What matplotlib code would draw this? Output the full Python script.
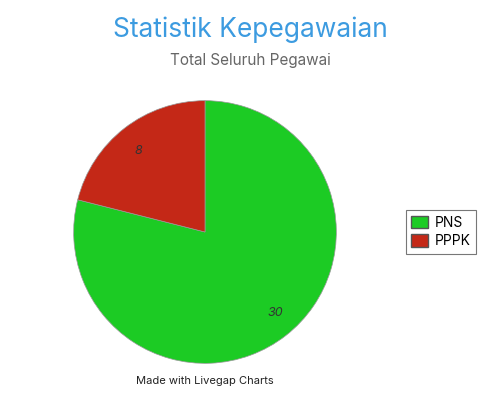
import matplotlib
matplotlib.use("Agg")
import matplotlib.pyplot as plt
from matplotlib.patches import Patch

categories = ["PNS", "PPPK"]
values = [30, 8]
colors = ["#1ccb24", "#c42817"]

plt.rcParams['font.family'] = ['Inter', 'DejaVu Sans']
fig = plt.figure(figsize=(5, 4), dpi=100)
fig.text(0.5, 0.925, "Statistik Kepegawaian", ha="center", va="center", fontsize=19, color="#3c9be0")
fig.text(0.5, 0.848, "Total Seluruh Pegawai", ha="center", va="center", fontsize=11, color="#666666")

ax = fig.add_axes([0.146, 0.09, 0.528, 0.66])
wedges, texts = ax.pie(values, colors=colors, startangle=90, counterclock=False,
                       labels=[str(v) for v in values], labeldistance=0.78,
                       wedgeprops=dict(linewidth=0.5, edgecolor="#999999"))
for t in texts:
    t.set_fontstyle("italic")
    t.set_fontsize(9)
    t.set_color("#333333")
ax.set_xlim(-1.005, 1.005)
ax.set_ylim(-1.005, 1.005)
ax.set_aspect("equal")

handles = [Patch(facecolor=c, edgecolor="#555555") for c in colors]
leg = fig.legend(handles, categories, loc="center", bbox_to_anchor=(0.882, 0.42),
                 fontsize=10, frameon=True, fancybox=False, handlelength=1.2,
                 handleheight=1.0, handletextpad=0.5, borderpad=0.4, labelspacing=0.3)
leg.get_frame().set_edgecolor("#555555")
leg.get_frame().set_linewidth(0.8)

fig.text(0.41, 0.048, "Made with Livegap Charts", ha="center", va="center", fontsize=8, color="#222222")
fig.savefig("out.png", dpi=100)
